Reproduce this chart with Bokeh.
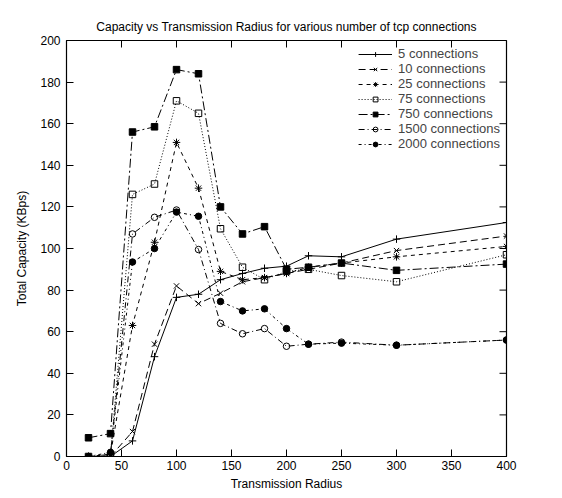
import math
from bokeh.plotting import figure
from bokeh.embed import file_html
from bokeh.resources import INLINE
from bokeh.models import FixedTicker, Range1d, Legend, LegendItem

radius = [20, 40, 60, 80, 100, 120, 140, 160, 180, 200, 220, 250, 300, 400]

conn_5    = [0, 0, 7.5, 48, 76.5, 78, 85, 88, 90.5, 91.5, 96.5, 96, 104.5, 112.5]
conn_10   = [0, 0, 12, 54, 82, 73.5, 78.5, 84, 86, 88, 90, 93, 99, 106]
conn_25   = [0, 1, 63, 103, 151, 129, 89, 85, 86, 88, 91, 93, 96, 101]
conn_75   = [0, 0.5, 126, 131, 171, 165, 109.5, 91, 85, 89, 90, 87, 84, 97]
conn_750  = [9, 11, 156, 158.5, 186, 184, 120, 107, 110.5, 90, 91, 93, 89.5, 92.5]
conn_1500 = [0, 1, 107, 115, 118.5, 99.5, 64, 59, 61.5, 53, 54, 55, 53.5, 56]
conn_2000 = [0, 2, 93.5, 100, 117.5, 115.5, 74.5, 70, 71, 61.5, 54, 54.5, 53.5, 56]

labels = ["5 connections", "10 connections", "25 connections", "75 connections",
          "750 connections", "1500 connections", "2000 connections"]
series = [conn_5, conn_10, conn_25, conn_75, conn_750, conn_1500, conn_2000]

x_ticks = [0, 50, 100, 150, 200, 250, 300, 350, 400]
y_ticks = [0, 20, 40, 60, 80, 100, 120, 140, 160, 180, 200]
x_lim = (0, 400)
y_lim = (0, 200)

dashes = ["solid", "7 4", "4 4", "1 2", "9 3 2 3", "6 3 1 3", "3 3 1 3"]
markers = [("cross", False), ("x", False), ("asterisk", False), ("square", False),
           ("square", True), ("circle", False), ("circle", True)]

FONT = "Liberation Sans"

p = figure(width=562, height=498, output_backend="svg", toolbar_location=None,
           x_range=Range1d(*x_lim), y_range=Range1d(*y_lim),
           title="Capacity vs Transmission Radius for various number of tcp connections",
           min_border_left=66, min_border_right=56, min_border_top=40, min_border_bottom=42)

p.title.align = "center"
p.title.text_font = FONT
p.title.text_font_size = "12px"
p.title.text_font_style = "normal"
p.title.text_color = "black"
p.title.standoff = 14

p.xgrid.visible = False
p.ygrid.visible = False
p.outline_line_color = "black"
p.outline_line_width = 1.2
p.background_fill_color = "white"
p.border_fill_color = "white"

p.xaxis.ticker = FixedTicker(ticks=x_ticks)
p.yaxis.ticker = FixedTicker(ticks=y_ticks)
p.xaxis.axis_label = "Transmission Radius"
p.yaxis.axis_label = "Total Capacity (KBps)"
for ax in (p.xaxis[0], p.yaxis[0]):
    ax.major_tick_in = 7
    ax.major_tick_out = 0
    ax.minor_tick_line_color = None
    ax.axis_line_color = None
    ax.major_tick_line_color = "black"
    ax.major_label_text_font = FONT
    ax.major_label_text_font_size = "12px"
    ax.major_label_text_color = "black"
    ax.axis_label_text_font = FONT
    ax.axis_label_text_font_size = "12px"
    ax.axis_label_text_font_style = "normal"
    ax.axis_label_text_color = "black"
p.xaxis.major_label_standoff = 4
p.yaxis.major_label_standoff = 6
p.xaxis.axis_label_standoff = 4
p.yaxis.axis_label_standoff = 8

# mirrored inward ticks on top and right edges
p.ray(x=x_ticks, y=[y_lim[1]] * len(x_ticks), length=7, length_units="screen",
      angle=-math.pi / 2, line_color="black", line_width=1)
p.ray(x=[x_lim[1]] * len(y_ticks), y=y_ticks, length=7, length_units="screen",
      angle=math.pi, line_color="black", line_width=1)

items = []
for lab, ys, dash, (mk, filled) in zip(labels, series, dashes, markers):
    ln = p.line(radius, ys, line_color="black", line_width=1, line_dash=dash)
    sz = 6.5 if mk in ("square", "circle") else 7.5
    sc = p.scatter(radius, ys, marker=mk, size=sz, line_color="black", line_width=1,
                   fill_color="black" if filled else None)
    items.append(LegendItem(label=lab, renderers=[ln, sc]))

legend = Legend(items=items, location="top_right", border_line_color=None,
                background_fill_alpha=0, label_text_font=FONT,
                label_text_font_size="13px", label_height=12, glyph_height=12,
                glyph_width=34, spacing=-1, padding=4, margin=6,
                label_standoff=6)
p.add_layout(legend, "center")

open("out.html", "w").write(file_html(p, INLINE))
